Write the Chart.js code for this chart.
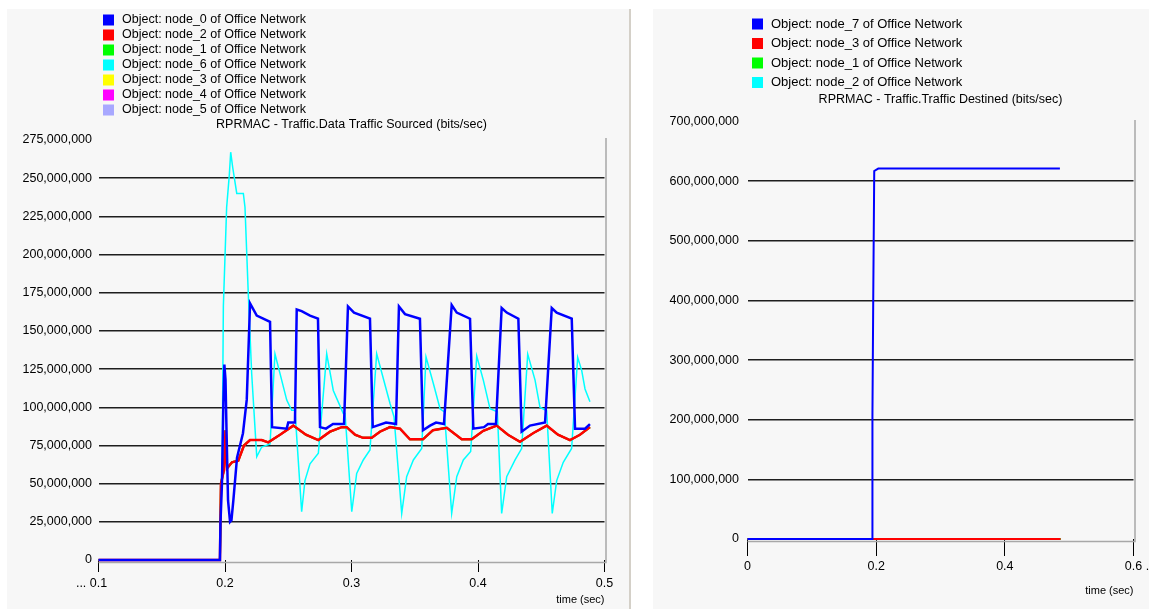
<!DOCTYPE html>
<html>
<head>
<meta charset="utf-8">
<script src="https://cdn.jsdelivr.net/npm/chart.js@4.4.1/dist/chart.umd.min.js"></script>
<style>
html, body { margin: 0; padding: 0; background: #fff; }
body { width: 1149px; height: 609px; position: relative; overflow: hidden; }
.panel { position: absolute; background: #f7f7f7; }
#leftPanel { left: 7px; top: 9px; width: 622px; height: 600px; }
#rightPanel { left: 653px; top: 9px; width: 496px; height: 600px; }
#divider { position: absolute; left: 629px; top: 9px; width: 2px; height: 600px; background: #d4d0c8; }
</style>
</head>
<body>
<div id="leftPanel" class="panel"><canvas id="sourced" width="622" height="600"></canvas></div>
<div id="divider"></div>
<div id="rightPanel" class="panel"><canvas id="destined" width="496" height="600"></canvas></div>
<script>
var FONT = '"Liberation Sans", Arial, sans-serif';

// ---- left: RPRMAC - Traffic.Data Traffic Sourced (values in Mbit/s)
var sourcedTitle = 'RPRMAC - Traffic.Data Traffic Sourced (bits/sec)';
var sourcedTicksX = ['... 0.1    ', '0.2', '0.3', '0.4', '0.5'];

var node0Time = [0.1, 0.196, 0.1964, 0.1976, 0.1987, 0.1995, 0.2004, 0.2012, 0.2024, 0.2040, 0.2051, 0.2066,
  0.2095, 0.2142, 0.2172, 0.2198, 0.2251, 0.2356, 0.2372, 0.2488, 0.2500, 0.2553, 0.2567, 0.2606, 0.2672,
  0.2735, 0.2751, 0.2798, 0.2854, 0.2941, 0.2972, 0.3020, 0.3146, 0.3168, 0.3273, 0.3352, 0.3375, 0.3423,
  0.3541, 0.3565, 0.3621, 0.3668, 0.3731, 0.3792, 0.3832, 0.3937, 0.3963, 0.4047, 0.4079, 0.4142, 0.4187,
  0.4227, 0.4319, 0.4345, 0.4411, 0.4530, 0.4583, 0.4622, 0.4741, 0.4767, 0.4846, 0.4885];
var node0Mbps = [0, 0, 24, 50, 103, 128, 118, 85, 39, 25, 26, 39,
  67, 83, 105, 168, 160, 156, 87, 86, 90, 90, 164, 163, 160,
  158, 87, 86, 89, 89, 166, 162, 158, 87, 90, 89, 166, 161,
  158, 85, 88, 90, 89, 167, 162, 158, 86, 87, 89, 89, 165,
  162, 158, 84, 88, 90, 165, 162, 158, 86, 86, 89];

var node2Time = [0.1, 0.196, 0.1968, 0.1992, 0.2004, 0.2016, 0.2055, 0.2105, 0.2150, 0.2198, 0.2290, 0.2342,
  0.2435, 0.2540, 0.2640, 0.2738, 0.2830, 0.2923, 0.2962, 0.3028, 0.3091, 0.3160, 0.3225, 0.3304, 0.3383,
  0.3462, 0.3565, 0.3644, 0.3753, 0.3871, 0.3950, 0.4042, 0.4148, 0.4237, 0.4332, 0.4435, 0.4543, 0.4632,
  0.4727, 0.4806, 0.4885];
var node2Mbps = [0, 0, 50, 59, 85, 60, 64, 65, 75, 78.5, 78.5, 77,
  82, 88, 82, 78.5, 84, 87, 87, 82, 80, 80, 84, 87, 86,
  79, 79, 85, 86.6, 79, 79, 84.6, 88, 82, 77.4, 83, 88, 82,
  78.5, 82, 87];

var node6Time = [0.1, 0.196, 0.1966, 0.1979, 0.1987, 0.2013, 0.2034, 0.2045, 0.2061, 0.2093, 0.2145, 0.2158,
  0.2184, 0.2211, 0.2251, 0.2290, 0.2356, 0.2395, 0.2435, 0.2488, 0.2527, 0.2553, 0.2606, 0.2632, 0.2672,
  0.2738, 0.2804, 0.2856, 0.2935, 0.2949, 0.3002, 0.3041, 0.3093, 0.3146, 0.3199, 0.3304, 0.3336, 0.3397,
  0.3436, 0.3489, 0.3555, 0.3589, 0.3647, 0.3700, 0.3734, 0.3792, 0.3832, 0.3884, 0.3942, 0.3990, 0.4042,
  0.4095, 0.4153, 0.4187, 0.4227, 0.4293, 0.4345, 0.4393, 0.4451, 0.4490, 0.4543, 0.4587, 0.4622, 0.4674,
  0.4740, 0.4788, 0.4820, 0.4846, 0.4885];
var node6Mbps = [0, 0, 20, 78.5, 166, 231, 252, 267, 257, 240, 240, 231,
  174.5, 122, 67.6, 74, 76, 135, 122, 104.7, 98, 98, 31.6, 52, 63,
  70, 135, 111, 96, 96, 31.6, 56.7, 65.5, 72, 135, 102.6, 93.8, 30.5,
  54.5, 65.5, 73, 133, 115.6, 99, 97, 30.5, 54.5, 65.5, 71, 133.5, 117.8,
  99, 97, 30.5, 54.5, 65.5, 73, 134.8, 117.8, 100, 97.7, 30.5, 52, 64,
  73, 132.7, 124, 112, 103.6];

// nodes 1, 3, 4 and 5 lie exactly under node_2 in the picture
var node1Time = node2Time, node1Mbps = node2Mbps;
var node3Time = node2Time, node3Mbps = node2Mbps;
var node4Time = node2Time, node4Mbps = node2Mbps;
var node5Time = node2Time, node5Mbps = node2Mbps;

// ---- right: RPRMAC - Traffic.Traffic Destined
var destinedTitle = 'RPRMAC - Traffic.Traffic Destined (bits/sec)';
var destinedTicksX = ['0', '0.2', '0.4', '   0.6 ..'];
var dNode7Time = [0, 0.194, 0.1942, 0.1955, 0.197, 0.2033, 0.4856];
var dNode7Mbps = [0, 0, 206, 411, 617, 621, 621];
var dNode3Time = [0, 0.4867];
var dNode3Mbps = [0, 0];
var dNode1Time = [0, 0.4867];
var dNode1Mbps = [0, 0];
var dNode2Time = [0, 0.4867];
var dNode2Mbps = [0, 0];

function pts(ts, vs) {
  return ts.map(function (t, i) { return { x: t, y: vs[i] * 1e6 }; });
}

// frame, legend and title, OPNET style
var panelDecor = {
  id: 'panelDecor',
  beforeDatasetsDraw: function (chart, args, o) {
    var ctx = chart.ctx, a = chart.chartArea;
    ctx.save();
    ctx.strokeStyle = '#a8a8a8';
    ctx.lineWidth = 1.5;
    ctx.beginPath();
    ctx.moveTo(a.left, a.bottom + 2.5);
    ctx.lineTo(a.right + 1.5, a.bottom + 2.5);
    ctx.lineTo(a.right + 1.5, o.frameTop);
    ctx.stroke();
    ctx.restore();
  },
  afterDraw: function (chart, args, o) {
    var ctx = chart.ctx, a = chart.chartArea;
    ctx.save();
    ctx.font = o.legendSize + 'px ' + FONT;
    ctx.textBaseline = 'middle';
    ctx.textAlign = 'left';
    chart.data.datasets.forEach(function (ds, i) {
      var y = o.legendTop + i * o.rowGap;
      ctx.fillStyle = ds.borderColor;
      ctx.fillRect(o.legendX, y - 5.5, 11, 11);
      ctx.fillStyle = '#000';
      ctx.fillText(ds.label, o.legendX + 19, y);
    });
    ctx.font = o.titleSize + 'px ' + FONT;
    ctx.textAlign = 'center';
    ctx.fillText(o.title, (a.left + a.right) / 2, o.titleY);
    ctx.restore();
  }
};

function buildChart(canvasId, series, axis, deco) {
  var datasets = series.map(function (s) {
    return {
      label: s.label,
      data: pts(s.time, s.mbps),
      borderColor: s.color,
      backgroundColor: s.color,
      borderWidth: s.width || 2,
      pointRadius: 0,
      tension: 0,
      fill: false,
      clip: false
    };
  });
  return new Chart(document.getElementById(canvasId), {
    type: 'line',
    data: { datasets: datasets },
    options: {
      responsive: false,
      animation: false,
      events: [],
      layout: { padding: { top: deco.top, right: deco.right, bottom: 0, left: 0 } },
      plugins: { legend: { display: false }, tooltip: { enabled: false }, panelDecor: deco },
      scales: {
        x: {
          type: 'linear', min: axis.xMin, max: axis.xMax,
          border: { display: false },
          grid: { drawOnChartArea: false, drawTicks: true, tickLength: deco.tickLen, tickColor: '#000', tickWidth: 1 },
          ticks: {
            stepSize: axis.xStep, autoSkip: false, maxRotation: 0, padding: deco.tickPad,
            color: '#000', font: { family: FONT, size: 12.5 },
            callback: function (v) { return axis.xLabels[Math.round((v - axis.xMin) / axis.xStep)]; }
          },
          title: {
            display: true, text: 'time (sec)', align: 'end', color: '#000',
            font: { family: FONT, size: 11 }, padding: { top: 0, bottom: deco.titlePad }
          },
          afterFit: function (s) { s.height = deco.xHeight; s.paddingLeft = 0; s.paddingRight = 0; }
        },
        y: {
          min: 0, max: axis.yMax,
          border: { display: false },
          grid: {
            drawTicks: false, lineWidth: 1.5,
            color: function (c) {
              var v = c.tick ? c.tick.value : 0;
              return (v === 0 || v === axis.yMax) ? 'rgba(0,0,0,0)' : '#1e1e1e';
            }
          },
          ticks: {
            stepSize: axis.yStep, padding: deco.yPad, color: '#000', font: { family: FONT, size: 12.5 },
            callback: function (v) { return Number(v).toLocaleString('en-US'); }
          },
          afterFit: function (s) { s.width = deco.yWidth; s.paddingTop = 0; s.paddingBottom = 0; }
        }
      }
    },
    plugins: [panelDecor]
  });
}

buildChart('sourced', [
  { label: 'Object: node_0 of Office Network', time: node0Time, mbps: node0Mbps, color: '#0000ff', width: 2.5 },
  { label: 'Object: node_2 of Office Network', time: node2Time, mbps: node2Mbps, color: '#ff0000', width: 2.5 },
  { label: 'Object: node_1 of Office Network', time: node1Time, mbps: node1Mbps, color: '#00ff00', width: 2 },
  { label: 'Object: node_6 of Office Network', time: node6Time, mbps: node6Mbps, color: '#00ffff', width: 1.5 },
  { label: 'Object: node_3 of Office Network', time: node3Time, mbps: node3Mbps, color: '#ffff00', width: 2 },
  { label: 'Object: node_4 of Office Network', time: node4Time, mbps: node4Mbps, color: '#ff00ff', width: 2 },
  { label: 'Object: node_5 of Office Network', time: node5Time, mbps: node5Mbps, color: '#a8a8ff', width: 2 }
], { xMin: 0.1, xMax: 0.5, xStep: 0.1, xLabels: sourcedTicksX, yMax: 275e6, yStep: 25e6 },
{ top: 131, right: 24.5, yWidth: 91.5, yPad: 6.5, xHeight: 49, tickLen: 12, tickPad: 4, titlePad: 2.4,
  frameTop: 129, legendX: 96, legendTop: 11, rowGap: 15, legendSize: 12.5, titleSize: 12.5,
  title: sourcedTitle, titleY: 116 });

buildChart('destined', [
  { label: 'Object: node_7 of Office Network', time: dNode7Time, mbps: dNode7Mbps, color: '#0000ff', width: 2 },
  { label: 'Object: node_3 of Office Network', time: dNode3Time, mbps: dNode3Mbps, color: '#ff0000', width: 2 },
  { label: 'Object: node_1 of Office Network', time: dNode1Time, mbps: dNode1Mbps, color: '#00ff00', width: 2 },
  { label: 'Object: node_2 of Office Network', time: dNode2Time, mbps: dNode2Mbps, color: '#00ffff', width: 2 }
], { xMin: 0, xMax: 0.6, xStep: 0.2, xLabels: destinedTicksX, yMax: 700e6, yStep: 100e6 },
{ top: 112.5, right: 15.5, yWidth: 94.5, yPad: 8.5, xHeight: 70, tickLen: 17, tickPad: 3, titlePad: 11,
  frameTop: 111, legendX: 99, legendTop: 15, rowGap: 19.5, legendSize: 13, titleSize: 12.5,
  title: destinedTitle, titleY: 91 });
</script>
</body>
</html>
